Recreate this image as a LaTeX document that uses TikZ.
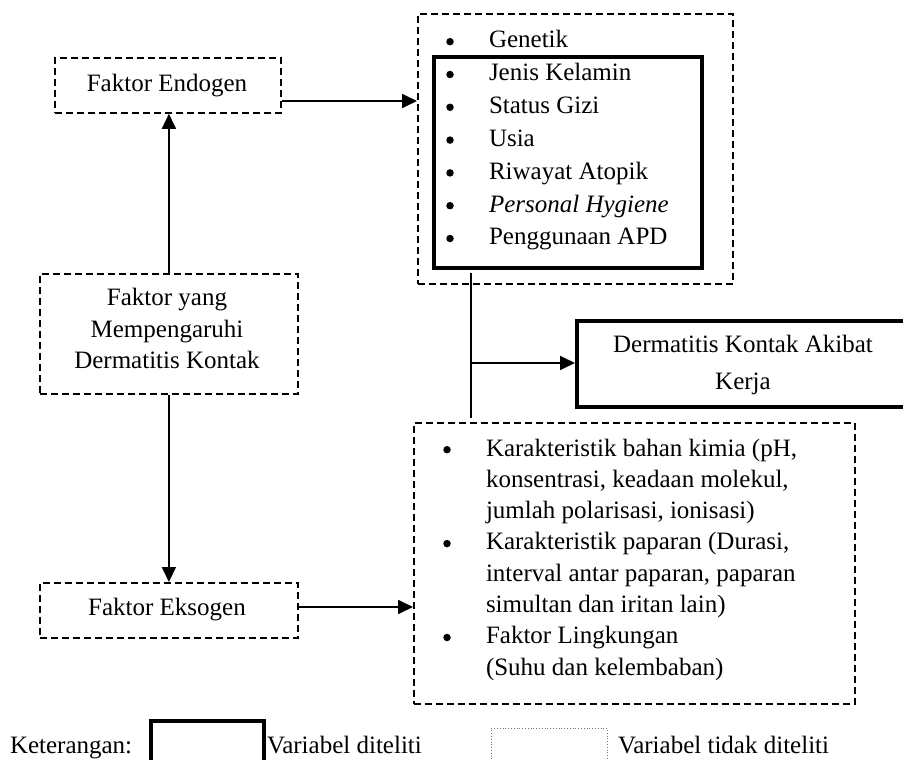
\documentclass[tikz,border=0pt]{standalone}
\usepackage{fontspec}
\setmainfont{Liberation Serif}
\usetikzlibrary{arrows.meta}
\begin{document}
\begin{tikzpicture}[x=1pt,y=-1pt,
  txt/.style={font=\fontsize{25}{31}\selectfont, inner sep=0pt, outer sep=0pt},
  dbox/.style={draw, line width=1.8pt, dash pattern=on 7pt off 4pt, inner sep=0pt, anchor=north west},
  sbox/.style={draw, line width=4pt, inner sep=0pt, anchor=north west},
  legdot/.style={draw=black!55, line width=0.8pt, dotted, inner sep=0pt, anchor=north west},
  arr/.style={line width=1.8pt, -{Triangle[length=15pt,width=14pt]}},
  plain/.style={line width=1.8pt},
  bul/.style={circle, fill=black, inner sep=0pt, minimum size=7.5pt},
]
\useasboundingbox (0,0) rectangle (903,760);

% boxes
\node[dbox, minimum width=226, minimum height=55] (endo) at (54,57) {};
\node[dbox, minimum width=258, minimum height=120] (fak) at (39,273) {};
\node[dbox, minimum width=258, minimum height=55] (exo) at (39,582) {};
\node[dbox, minimum width=315, minimum height=270] (top) at (417,13) {};
\node[sbox, minimum width=268, minimum height=211] (inner) at (432,55) {};
\node[sbox, minimum width=345, minimum height=86] (derm) at (575,319) {};
\node[dbox, minimum width=441, minimum height=281] (bot) at (413,422) {};

% box texts
\node[txt, anchor=base] (endoT) at (167,92) {Faktor Endogen};
\node[txt, anchor=base] (fakT1) at (167,305) {Faktor yang};
\node[txt, anchor=base] (fakT2) at (167,337) {Mempengaruhi};
\node[txt, anchor=base] (fakT3) at (167,368) {Dermatitis Kontak};
\node[txt, anchor=base] (exoT) at (167,615) {Faktor Eksogen};
\node[txt, anchor=base] (dermT1) at (743,352) {Dermatitis Kontak Akibat};
\node[txt, anchor=base] (dermT2) at (743,389) {Kerja};

% top list
\node[bul] (gb1) at (450,41.7) {};
\node[bul] (gb2) at (450,74.5) {};
\node[bul] (gb3) at (450,107.3) {};
\node[bul] (gb4) at (450,140.1) {};
\node[bul] (gb5) at (450,172.9) {};
\node[bul] (gb6) at (450,205.7) {};
\node[bul] (gb7) at (450,238.5) {};
\node[txt, anchor=base west] (g1) at (489,48) {Genetik};
\node[txt, anchor=base west] (g2) at (489,80.8) {Jenis Kelamin};
\node[txt, anchor=base west] (g3) at (489,113.6) {Status Gizi};
\node[txt, anchor=base west] (g4) at (489,146.4) {Usia};
\node[txt, anchor=base west] (g5) at (489,179.2) {Riwayat Atopik};
\node[txt, anchor=base west] (g6) at (489,212) {\itshape Personal Hygiene};
\node[txt, anchor=base west] (g7) at (489,244.8) {Penggunaan APD};

% bottom list
\node[bul] (kb1) at (447,449.7) {};
\node[bul] (kb2) at (447,543.6) {};
\node[bul] (kb3) at (447,637.5) {};
\node[txt, anchor=base west] (k1) at (486,456) {Karakteristik bahan kimia (pH,};
\node[txt, anchor=base west] (k2) at (486,487.3) {konsentrasi, keadaan molekul,};
\node[txt, anchor=base west] (k3) at (486,518.6) {jumlah polarisasi, ionisasi)};
\node[txt, anchor=base west] (k4) at (486,549.9) {Karakteristik paparan (Durasi,};
\node[txt, anchor=base west] (k5) at (486,581.2) {interval antar paparan, paparan};
\node[txt, anchor=base west] (k6) at (486,612.5) {simultan dan iritan lain)};
\node[txt, anchor=base west] (k7) at (486,643.8) {Faktor Lingkungan};
\node[txt, anchor=base west] (k8) at (486,675.1) {(Suhu dan kelembaban)};

% connectors
\coordinate (yEndo) at (0,101);
\coordinate (yExo) at (0,607);
\coordinate (v1) at (471,273);
\coordinate (v2) at (471,418);
\coordinate (vj) at (471,363);
\draw[arr] (endo.east |- yEndo) -- (top.west |- yEndo);
\draw[arr] (fak.north) -- (endo.south -| fak.north);
\draw[arr] (fak.south) -- (exo.north -| fak.south);
\draw[arr] (exo.east |- yExo) -- (bot.west |- yExo);
\draw[plain] (v1) -- (v2);
\draw[arr] (vj) -- (derm.west |- vj);

% legend
\node[txt, anchor=base west] (ket) at (10,753) {Keterangan:};
\node[sbox, minimum width=113, minimum height=70] (legS) at (149,719) {};
\node[txt, anchor=base west] (legST) at (267,753) {Variabel diteliti};
\node[legdot, minimum width=116, minimum height=60] (legD) at (491,728) {};
\node[txt, anchor=base west] (legDT) at (618,753) {Variabel tidak diteliti};
\end{tikzpicture}
\end{document}
